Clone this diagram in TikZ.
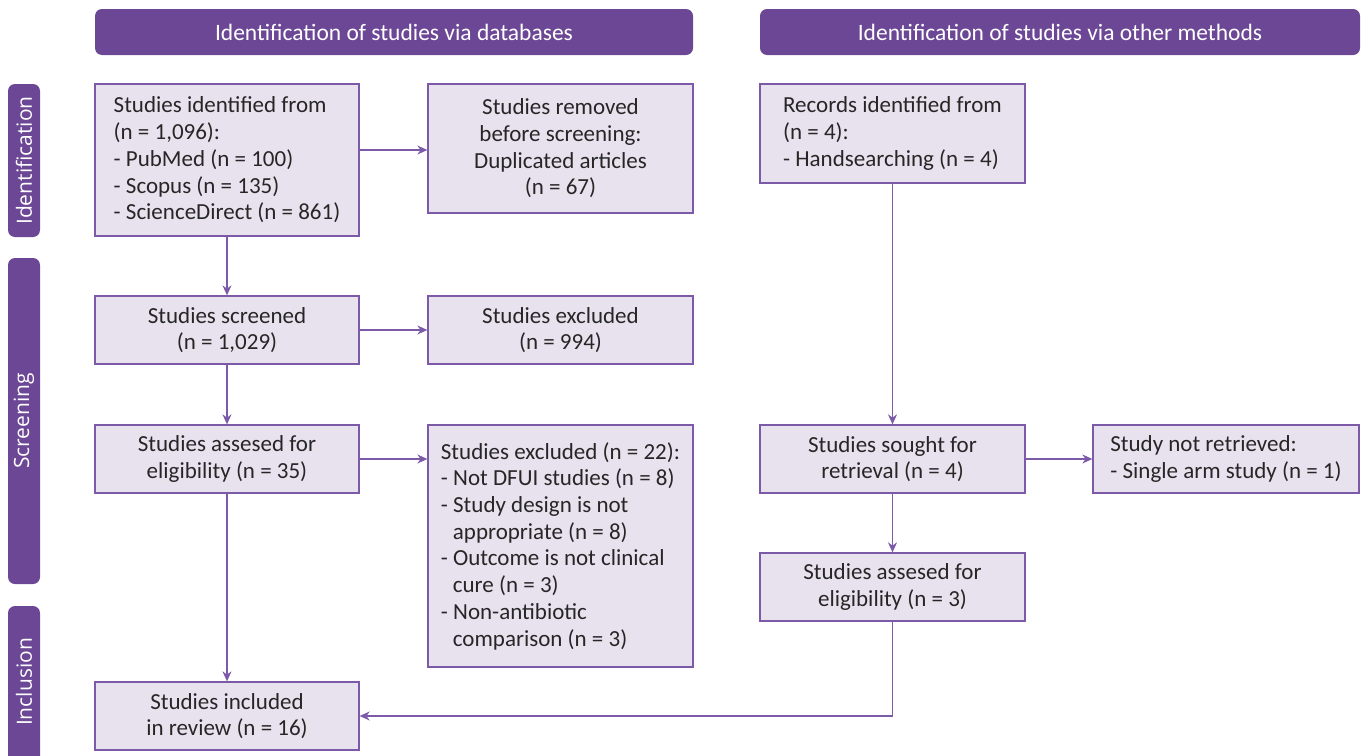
\documentclass[tikz,border=0pt]{standalone}
\usepackage{fontspec}
\setmainfont{Carlito}
\newfontfamily\sidefont{Open Sans}
\usetikzlibrary{arrows.meta}
\definecolor{hdr}{HTML}{6C4795}
\definecolor{bfill}{HTML}{E8E2EF}
\definecolor{bline}{HTML}{7D5AA8}
\tikzset{
  box/.style={draw=bline, fill=bfill, line width=1.3pt, rectangle, inner sep=0pt, font=\fontsize{23}{26.7}\selectfont, text=black!85},
  hdrbox/.style={fill=hdr, rounded corners=7pt, text=white, inner sep=0pt, font=\fontsize{23.5}{26}\selectfont},
  sidebox/.style={fill=hdr, rounded corners=7pt, inner sep=0pt},
  sidetext/.style={rotate=90, text=white, inner sep=0pt, font=\sidefont\fontsize{21}{24}\selectfont},
  arr/.style={draw=bline, line width=1.3pt, -{Stealth[length=10pt,width=9pt]}},
}
\begin{document}
\begin{tikzpicture}[x=1pt,y=-1pt]
\useasboundingbox (0,0) rectangle (1362,755);
% headers
\node[hdrbox, minimum width=598pt, minimum height=46pt] (h1) at (394,32) {Identification of studies via databases};
\node[hdrbox, minimum width=600pt, minimum height=46pt] (h2) at (1060,32) {Identification of studies via other methods};
% side labels
\node[sidebox, minimum width=32pt, minimum height=153pt] (s1) at (24,160.5) {};
\node[sidetext] (s1t) at (s1.center) {Identification};
\node[sidebox, minimum width=32pt, minimum height=326pt] (s2) at (24,421) {};
\node[sidetext] (s2t) at (s2.center) {Screening};
\node[sidebox, minimum width=32pt, minimum height=160pt] (s3) at (24,686) {};
\node[sidetext] (s3t) at (24,682) {Inclusion};
% left column
\node[box, minimum width=264pt, minimum height=152pt, align=left] (b1) at (227,160)
  {Studies identified from\\(n = 1,096):\\- PubMed (n = 100)\\- Scopus (n = 135)\\- ScienceDirect (n = 861)};
\node[box, minimum width=265pt, minimum height=129pt, align=center] (b2) at (560.5,148.5)
  {Studies removed\\before screening:\\Duplicated articles\\(n = 67)};
\node[box, minimum width=264pt, minimum height=68pt, align=center] (b3) at (227,330)
  {Studies screened\\(n = 1,029)};
\node[box, minimum width=265pt, minimum height=68pt, align=center] (b4) at (560.5,330)
  {Studies excluded\\(n = 994)};
\node[box, minimum width=264pt, minimum height=68pt, align=center] (b5) at (227,459)
  {Studies assesed for\\eligibility (n = 35)};
\node[box, minimum width=265pt, minimum height=242pt, align=left] (b6) at (560.5,546)
  {Studies excluded (n = 22):\\- Not DFUI studies (n = 8)\\- Study design is not\\\hspace*{12pt}appropriate (n = 8)\\- Outcome is not clinical\\\hspace*{12pt}cure (n = 3)\\- Non-antibiotic\\\hspace*{12pt}comparison (n = 3)};
\node[box, minimum width=264pt, minimum height=68pt, align=center] (b7) at (227,716)
  {Studies included\\in review (n = 16)};
% right column
\node[box, minimum width=265pt, minimum height=99pt, align=left] (r1) at (892.5,133.5)
  {Records identified from\\(n = 4):\\- Handsearching (n = 4)};
\node[box, minimum width=265pt, minimum height=68pt, align=center] (r2) at (892.5,459)
  {Studies sought for\\retrieval (n = 4)};
\node[box, minimum width=266pt, minimum height=68pt, align=left] (r3) at (1226,459)
  {Study not retrieved:\\- Single arm study (n = 1)};
\node[box, minimum width=265pt, minimum height=68pt, align=center] (r4) at (892.5,587)
  {Studies assesed for\\eligibility (n = 3)};
% arrows
\draw[arr] ([yshift=-1.5pt]b2.west -| b1.east) -- ([yshift=-1.5pt]b2.west);
\draw[arr] (b1.south) -- (b3.north);
\draw[arr] (b3.east) -- (b4.west);
\draw[arr] (b3.south) -- (b5.north);
\draw[arr] (b5.east) -- (b5.east -| b6.west);
\draw[arr] (b5.south) -- (b7.north);
\draw[arr] (r1.south) -- (r2.north);
\draw[arr] (r2.east) -- (r3.west);
\draw[arr] (r2.south) -- (r4.north);
\draw[arr] (r4.south) |- (b7.east);
\end{tikzpicture}
\end{document}
